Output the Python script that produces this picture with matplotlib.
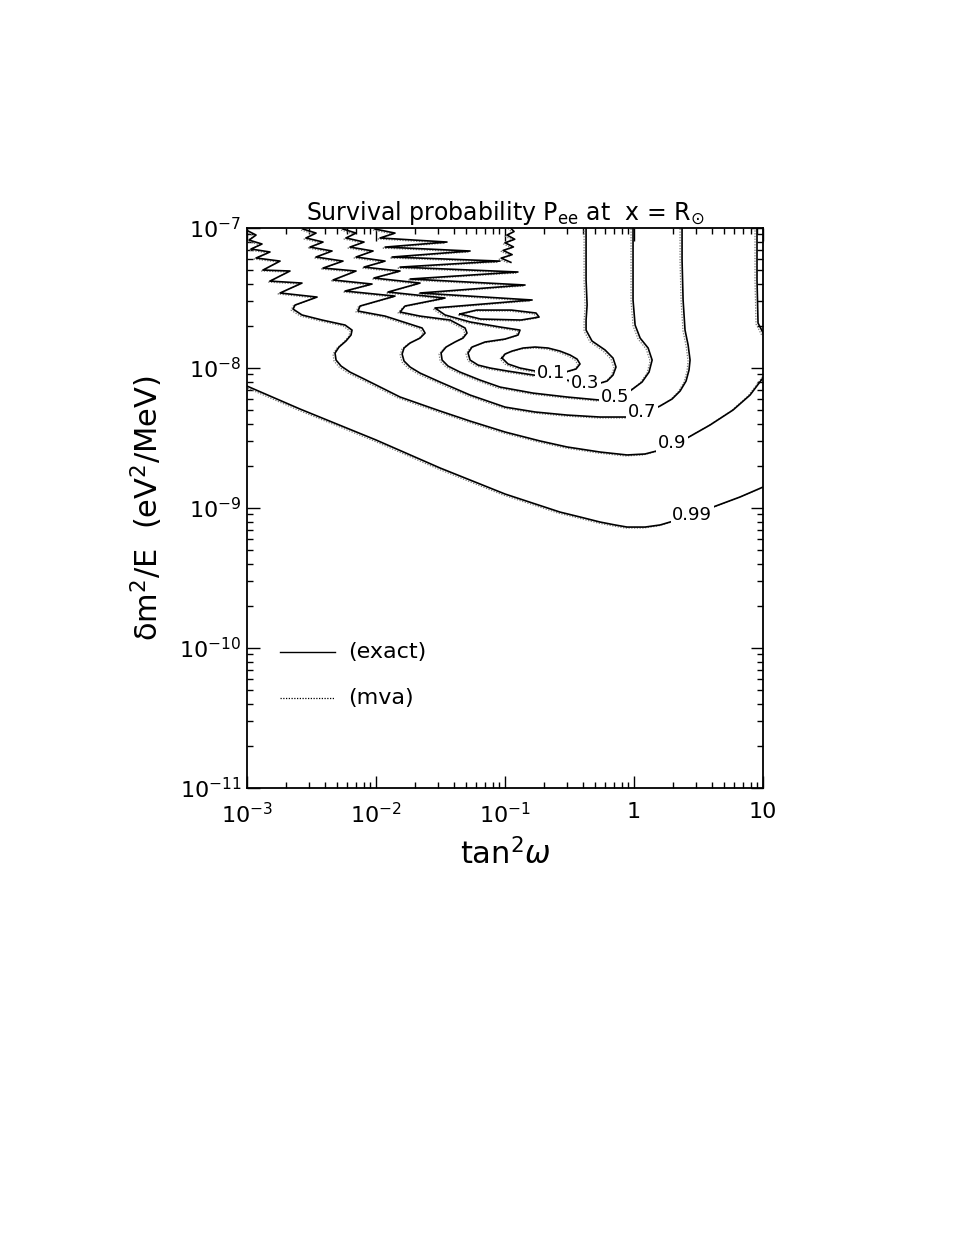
import numpy as np
import matplotlib
matplotlib.use("Agg")
import matplotlib.pyplot as plt
from matplotlib import transforms
from matplotlib.ticker import FixedLocator, FixedFormatter, NullFormatter

# ---------------- data (log10 of tan^2(omega), log10 of dm^2/E) ----------------
P099_LX = [-3.00, -2.589, -2.00, -1.504, -1.00, -0.574, -0.419, -0.264, -0.147, -0.054, 0.085,
           0.202, 0.357, 0.450, 0.612, 0.822, 1.00]
P099_LY = [-8.129, -8.293, -8.514, -8.714, -8.900, -9.029, -9.064, -9.100, -9.121, -9.136, -9.136,
           -9.121, -9.079, -9.050, -8.993, -8.921, -8.850]

P090_LX = [-2.992, -2.930, -2.984, -2.884, -2.969, -2.822, -2.930, -2.744, -2.876, -2.667, -2.822,
           -2.574, -2.744, -2.457, -2.628, -2.643, -2.574, -2.419, -2.240, -2.186, -2.194, -2.233,
           -2.287, -2.318, -2.310, -2.271, -2.202, -2.109, -2.000, -1.814, -1.504, -1.271, -1.000,
           -0.729, -0.519, -0.264, -0.054, 0.085, 0.202, 0.411, 0.589, 0.767, 0.899, 1.016]
P090_LY = [-7.021, -7.050, -7.086, -7.114, -7.150, -7.171, -7.214, -7.236, -7.300, -7.307, -7.379,
           -7.393, -7.464, -7.493, -7.550, -7.579, -7.621, -7.657, -7.693, -7.729, -7.764, -7.807,
           -7.850, -7.893, -7.943, -7.986, -8.029, -8.071, -8.121, -8.207, -8.307, -8.379, -8.457,
           -8.521, -8.564, -8.600, -8.621, -8.614, -8.586, -8.500, -8.407, -8.300, -8.193, -8.050]
P090B_LX = [0.953, 0.953, 0.961, 0.977, 1.008]
P090B_LY = [-6.99, -7.371, -7.679, -7.707, -7.764]

P070_LX = [-2.566, -2.465, -2.543, -2.411, -2.512, -2.341, -2.465, -2.256, -2.411, -2.155, -2.333,
           -2.031, -2.240, -1.853, -2.124, -2.140, -1.930, -1.643, -1.620, -1.659, -1.736, -1.783,
           -1.798, -1.783, -1.736, -1.659, -1.504, -1.271, -1.000, -0.767, -0.519, -0.264, -0.054,
           0.085, 0.202, 0.295, 0.357, 0.403, 0.426, 0.434, 0.419, 0.395, 0.380, 0.372, 0.372]
P070_LY = [-7.007, -7.036, -7.071, -7.100, -7.136, -7.164, -7.207, -7.236, -7.286, -7.307, -7.371,
           -7.400, -7.450, -7.486, -7.557, -7.593, -7.629, -7.714, -7.750, -7.786, -7.821, -7.857,
           -7.900, -7.950, -7.993, -8.036, -8.100, -8.193, -8.279, -8.314, -8.336, -8.350, -8.350,
           -8.321, -8.271, -8.221, -8.164, -8.093, -8.014, -7.943, -7.836, -7.729, -7.514, -7.229,
           -6.986]

P050_LX = [-2.256, -2.155, -2.233, -2.093, -2.202, -2.023, -2.155, -1.930, -2.093, -1.814, -2.016,
           -1.659, -1.907, -1.465, -1.775, -1.814, -1.659, -1.426, -1.310, -1.295, -1.326, -1.388,
           -1.457, -1.496, -1.488, -1.442, -1.349, -1.194, -1.039, -0.783, -0.519, -0.264, -0.147,
           -0.031, 0.062, 0.116, 0.140, 0.109, 0.047, 0.008, -0.008, -0.008]
P050_LY = [-7.007, -7.036, -7.071, -7.100, -7.136, -7.164, -7.207, -7.236, -7.279, -7.307, -7.357,
           -7.393, -7.457, -7.500, -7.557, -7.600, -7.629, -7.657, -7.714, -7.750, -7.786, -7.814,
           -7.850, -7.893, -7.943, -7.986, -8.029, -8.086, -8.136, -8.179, -8.207, -8.229, -8.214,
           -8.164, -8.100, -8.029, -7.943, -7.857, -7.786, -7.693, -7.514, -6.986]

P030_LX = [-2.008, -1.853, -1.969, -1.450, -1.930, -1.271, -1.876, -1.039, -1.814, -0.900, -1.736,
           -0.845, -1.659, -0.790, -1.543, -1.465, -1.271, -1.039, -0.884, -0.899, -1.000, -1.155,
           -1.256, -1.287, -1.271, -1.209, -1.116, -0.984, -0.729, -0.473, -0.287, -0.209, -0.163,
           -0.140, -0.163, -0.225, -0.326, -0.372, -0.372, -0.364, -0.372, -0.372]
P030_LY = [-7.007, -7.036, -7.071, -7.100, -7.136, -7.164, -7.207, -7.236, -7.279, -7.314, -7.364,
           -7.407, -7.464, -7.514, -7.571, -7.621, -7.671, -7.707, -7.729, -7.764, -7.793, -7.814,
           -7.850, -7.893, -7.943, -7.979, -8.000, -8.021, -8.057, -8.093, -8.114, -8.093, -8.050,
           -7.993, -7.929, -7.871, -7.807, -7.729, -7.657, -7.550, -7.371, -6.986]
P030B_LX = [-0.962, -0.930, -0.985, -0.925, -1.000, -0.935, -1.015, -0.945, -1.030, -0.955]
P030B_LY = [-6.995, -7.025, -7.050, -7.080, -7.105, -7.135, -7.160, -7.190, -7.215, -7.245]

P010_LX = [-1.023, -1.000, -0.946, -0.860, -0.767, -0.667, -0.574, -0.496, -0.442, -0.419, -0.450,
           -0.535, -0.651, -0.767, -0.884, -0.977, -1.023]
P010_LY = [-7.929, -7.900, -7.879, -7.857, -7.850, -7.857, -7.879, -7.907, -7.936, -7.971, -8.007,
           -8.029, -8.036, -8.021, -8.000, -7.971, -7.929]

P010B_LX = [-1.349, -1.220, -0.950, -0.760, -0.736, -0.876, -1.190, -1.349]
P010B_LY = [-7.614, -7.586, -7.586, -7.607, -7.636, -7.657, -7.650, -7.614]

LEVEL_TEXT = ["0.1", "0.3", "0.5", "0.7", "0.9", "0.99"]
LABEL_LX = [-0.643, -0.380, -0.147, 0.062, 0.295, 0.450]
LABEL_LY = [-8.036, -8.107, -8.207, -8.314, -8.536, -9.050]

XTICK_VALS = [1e-3, 1e-2, 1e-1, 1, 10]
XTICK_TEXT = [r"$10^{-3}$", r"$10^{-2}$", r"$10^{-1}$", "1", "10"]
YTICK_VALS = [1e-11, 1e-10, 1e-9, 1e-8, 1e-7]
YTICK_TEXT = [r"$10^{-11}$", r"$10^{-10}$", r"$10^{-9}$", r"$10^{-8}$", r"$10^{-7}$"]

# ---------------- figure ----------------
plt.rcParams["font.family"] = ["DejaVu Sans"]
plt.rcParams["mathtext.fontset"] = "dejavusans"

fig = plt.figure(figsize=(9.68, 12.53), dpi=100)
ax = fig.add_axes([0.2552, 0.3711, 0.5331, 0.4469])
ax.set_xscale("log")
ax.set_yscale("log")
ax.set_xlim(1e-3, 10)
ax.set_ylim(1e-11, 1e-7)

dotted_tr = transforms.offset_copy(ax.transData, fig=fig, x=-2.0, y=-1.0, units="dots")

contours = [
    (P099_LX, P099_LY), (P090_LX, P090_LY), (P090B_LX, P090B_LY), (P070_LX, P070_LY),
    (P050_LX, P050_LY), (P030_LX, P030_LY), (P030B_LX, P030B_LY), (P010_LX, P010_LY),
    (P010B_LX, P010B_LY),
]
for lx, ly in contours:
    xs = 10.0 ** np.asarray(lx)
    ys = 10.0 ** np.asarray(ly)
    ax.plot(xs, ys, color="#777777", lw=0.9, ls=(0, (1, 1.2)), transform=dotted_tr)
    ax.plot(xs, ys, color="black", lw=1.2, solid_joinstyle="round")

for t, lx, ly in zip(LEVEL_TEXT, LABEL_LX, LABEL_LY):
    ax.text(10 ** lx, 10 ** ly, t, fontsize=13, ha="center", va="center",
            bbox=dict(facecolor="white", edgecolor="none", pad=1.0), zorder=5)

# ticks
for axis, vals, txt in ((ax.xaxis, XTICK_VALS, XTICK_TEXT), (ax.yaxis, YTICK_VALS, YTICK_TEXT)):
    axis.set_major_locator(FixedLocator(vals))
    axis.set_major_formatter(FixedFormatter(txt))
    minors = [m * v for v in vals[:-1] for m in range(2, 10)]
    axis.set_minor_locator(FixedLocator(minors))
    axis.set_minor_formatter(NullFormatter())

ax.tick_params(which="both", direction="in", top=True, right=True, width=1.0, color="black")
ax.tick_params(which="major", length=9, labelsize=16)
ax.tick_params(which="minor", length=4.5)
ax.tick_params(axis="x", which="major", pad=10)
ax.tick_params(axis="y", which="major", pad=4)
for s in ax.spines.values():
    s.set_linewidth(1.3)

ax.set_xlabel(r"tan$^2\omega$", fontsize=22, labelpad=8)
ax.set_ylabel("δm$^2$/E  (eV$^2$/MeV)", fontsize=22, labelpad=10)
ax.set_title(r"Survival probability P$_{\mathrm{ee}}$ at  x = R$_{\odot}$", fontsize=17, pad=6)

# legend
ax.plot([0.064, 0.171], [0.243, 0.243], color="black", lw=1.0, transform=ax.transAxes)
ax.plot([0.064, 0.171], [0.161, 0.161], color="black", lw=0.9, ls=(0, (1, 1.2)), transform=ax.transAxes)
ax.text(0.196, 0.243, "(exact)", fontsize=16, va="center", ha="left", transform=ax.transAxes)
ax.text(0.196, 0.161, "(mva)", fontsize=16, va="center", ha="left", transform=ax.transAxes)

fig.savefig("out.png", dpi=100, facecolor="white")
